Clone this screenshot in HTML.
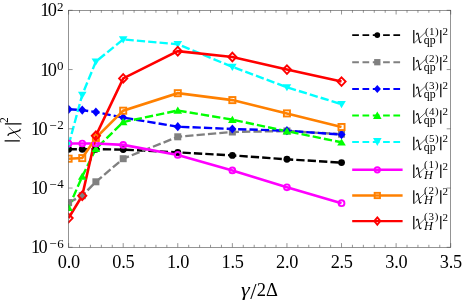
<!DOCTYPE html><html><head><meta charset="utf-8"><style>html,body{margin:0;padding:0;background:#fff}svg{display:block;will-change:transform}.s{font-family:"Liberation Serif",serif}</style></head><body><svg width="463" height="303" viewBox="0 0 463 303">
<rect width="463" height="303" fill="#fff"/>
<defs><clipPath id="c"><rect x="68.3" y="10.3" width="382.40000000000003" height="237.0"/></clipPath></defs>
<g clip-path="url(#c)">
<polyline points="68.6,149.2 82.2,149.2 95.9,149.2 123.2,149.6 177.8,152.4 232.4,155.4 286.9,159.3 341.5,162.6" fill="none" stroke="#000" stroke-width="2.4" stroke-dasharray="8.3 3.1"/>
<polyline points="68.6,202.6 82.2,195.7 95.9,181.8 123.2,158.7 177.8,136.8 232.4,132.0 286.9,131.0 341.5,134.2" fill="none" stroke="#808080" stroke-width="2.4" stroke-dasharray="8.3 3.1"/>
<polyline points="68.6,109.3 82.2,110.1 95.9,112.1 123.2,117.6 177.8,126.7 232.4,129.0 286.9,130.7 341.5,134.6" fill="none" stroke="#0000ff" stroke-width="2.4" stroke-dasharray="8.3 3.1"/>
<polyline points="68.6,207.7 82.2,176.5 95.9,148.8 123.2,122.0 177.8,110.5 232.4,119.7 286.9,131.2 341.5,142.3" fill="none" stroke="#00ff00" stroke-width="2.4" stroke-dasharray="8.3 3.1"/>
<polyline points="68.6,145.0 82.2,94.9 95.9,61.6 123.2,39.4 177.8,44.2 232.4,66.9 286.9,87.3 341.5,104.2" fill="none" stroke="#00ffff" stroke-width="2.4" stroke-dasharray="8.3 3.1"/>
<polyline points="68.6,143.5 82.2,143.5 95.9,143.5 123.2,144.9 177.8,154.9 232.4,170.4 286.9,187.3 341.5,203.2" fill="none" stroke="#ff00ff" stroke-width="2.6"/>
<polyline points="68.6,158.7 82.2,158.1 95.9,137.9 123.2,110.7 177.8,93.2 232.4,100.1 286.9,113.4 341.5,127.0" fill="none" stroke="#ff8000" stroke-width="2.6"/>
<polyline points="68.6,218.1 82.2,195.7 95.9,135.8 123.2,78.4 177.8,51.2 232.4,57.0 286.9,69.6 341.5,81.6" fill="none" stroke="#ff0000" stroke-width="2.6"/>
<circle cx="68.60" cy="149.20" r="3.45" fill="#000"/>
<circle cx="82.25" cy="149.20" r="3.45" fill="#000"/>
<circle cx="95.89" cy="149.20" r="3.45" fill="#000"/>
<circle cx="123.19" cy="149.60" r="3.45" fill="#000"/>
<circle cx="177.77" cy="152.40" r="3.45" fill="#000"/>
<circle cx="232.36" cy="155.40" r="3.45" fill="#000"/>
<circle cx="286.94" cy="159.30" r="3.45" fill="#000"/>
<circle cx="341.53" cy="162.60" r="3.45" fill="#000"/>
<rect x="65.10" y="199.10" width="7.0" height="7.0" fill="#808080"/>
<rect x="78.75" y="192.20" width="7.0" height="7.0" fill="#808080"/>
<rect x="92.39" y="178.30" width="7.0" height="7.0" fill="#808080"/>
<rect x="119.69" y="155.20" width="7.0" height="7.0" fill="#808080"/>
<rect x="174.27" y="133.30" width="7.0" height="7.0" fill="#808080"/>
<rect x="228.86" y="128.50" width="7.0" height="7.0" fill="#808080"/>
<rect x="283.44" y="127.50" width="7.0" height="7.0" fill="#808080"/>
<rect x="338.03" y="130.70" width="7.0" height="7.0" fill="#808080"/>
<path d="M68.60 104.70L72.60 109.30L68.60 113.90L64.60 109.30Z" fill="#0000ff"/>
<path d="M82.25 105.50L86.25 110.10L82.25 114.70L78.25 110.10Z" fill="#0000ff"/>
<path d="M95.89 107.50L99.89 112.10L95.89 116.70L91.89 112.10Z" fill="#0000ff"/>
<path d="M123.19 113.00L127.19 117.60L123.19 122.20L119.19 117.60Z" fill="#0000ff"/>
<path d="M177.77 122.10L181.77 126.70L177.77 131.30L173.77 126.70Z" fill="#0000ff"/>
<path d="M232.36 124.40L236.36 129.00L232.36 133.60L228.36 129.00Z" fill="#0000ff"/>
<path d="M286.94 126.10L290.94 130.70L286.94 135.30L282.94 130.70Z" fill="#0000ff"/>
<path d="M341.53 130.00L345.53 134.60L341.53 139.20L337.53 134.60Z" fill="#0000ff"/>
<path d="M68.60 203.80L72.90 210.90L64.30 210.90Z" fill="#00ff00"/>
<path d="M82.25 172.60L86.55 179.70L77.95 179.70Z" fill="#00ff00"/>
<path d="M95.89 144.90L100.19 152.00L91.59 152.00Z" fill="#00ff00"/>
<path d="M123.19 118.10L127.49 125.20L118.89 125.20Z" fill="#00ff00"/>
<path d="M177.77 106.60L182.07 113.70L173.47 113.70Z" fill="#00ff00"/>
<path d="M232.36 115.80L236.66 122.90L228.06 122.90Z" fill="#00ff00"/>
<path d="M286.94 127.30L291.24 134.40L282.64 134.40Z" fill="#00ff00"/>
<path d="M341.53 138.40L345.83 145.50L337.23 145.50Z" fill="#00ff00"/>
<path d="M68.60 149.00L72.90 141.90L64.30 141.90Z" fill="#00ffff"/>
<path d="M82.25 98.90L86.55 91.80L77.95 91.80Z" fill="#00ffff"/>
<path d="M95.89 65.60L100.19 58.50L91.59 58.50Z" fill="#00ffff"/>
<path d="M123.19 43.40L127.49 36.30L118.89 36.30Z" fill="#00ffff"/>
<path d="M177.77 48.20L182.07 41.10L173.47 41.10Z" fill="#00ffff"/>
<path d="M232.36 70.90L236.66 63.80L228.06 63.80Z" fill="#00ffff"/>
<path d="M286.94 91.30L291.24 84.20L282.64 84.20Z" fill="#00ffff"/>
<path d="M341.53 108.20L345.83 101.10L337.23 101.10Z" fill="#00ffff"/>
<circle cx="68.60" cy="143.50" r="2.9" fill="none" stroke="#ff00ff" stroke-width="1.9"/>
<circle cx="82.25" cy="143.50" r="2.9" fill="none" stroke="#ff00ff" stroke-width="1.9"/>
<circle cx="95.89" cy="143.50" r="2.9" fill="none" stroke="#ff00ff" stroke-width="1.9"/>
<circle cx="123.19" cy="144.90" r="2.9" fill="none" stroke="#ff00ff" stroke-width="1.9"/>
<circle cx="177.77" cy="154.90" r="2.9" fill="none" stroke="#ff00ff" stroke-width="1.9"/>
<circle cx="232.36" cy="170.40" r="2.9" fill="none" stroke="#ff00ff" stroke-width="1.9"/>
<circle cx="286.94" cy="187.30" r="2.9" fill="none" stroke="#ff00ff" stroke-width="1.9"/>
<circle cx="341.53" cy="203.20" r="2.9" fill="none" stroke="#ff00ff" stroke-width="1.9"/>
<rect x="65.55" y="155.65" width="6.1" height="6.1" fill="none" stroke="#ff8000" stroke-width="1.9"/>
<rect x="79.20" y="155.05" width="6.1" height="6.1" fill="none" stroke="#ff8000" stroke-width="1.9"/>
<rect x="92.84" y="134.85" width="6.1" height="6.1" fill="none" stroke="#ff8000" stroke-width="1.9"/>
<rect x="120.14" y="107.65" width="6.1" height="6.1" fill="none" stroke="#ff8000" stroke-width="1.9"/>
<rect x="174.72" y="90.15" width="6.1" height="6.1" fill="none" stroke="#ff8000" stroke-width="1.9"/>
<rect x="229.31" y="97.05" width="6.1" height="6.1" fill="none" stroke="#ff8000" stroke-width="1.9"/>
<rect x="283.89" y="110.35" width="6.1" height="6.1" fill="none" stroke="#ff8000" stroke-width="1.9"/>
<rect x="338.48" y="123.95" width="6.1" height="6.1" fill="none" stroke="#ff8000" stroke-width="1.9"/>
<path d="M68.60 213.80L72.70 218.10L68.60 222.40L64.50 218.10Z" fill="none" stroke="#ff0000" stroke-width="1.9"/>
<path d="M82.25 191.40L86.35 195.70L82.25 200.00L78.15 195.70Z" fill="none" stroke="#ff0000" stroke-width="1.9"/>
<path d="M95.89 131.50L99.99 135.80L95.89 140.10L91.79 135.80Z" fill="none" stroke="#ff0000" stroke-width="1.9"/>
<path d="M123.19 74.10L127.29 78.40L123.19 82.70L119.09 78.40Z" fill="none" stroke="#ff0000" stroke-width="1.9"/>
<path d="M177.77 46.90L181.87 51.20L177.77 55.50L173.67 51.20Z" fill="none" stroke="#ff0000" stroke-width="1.9"/>
<path d="M232.36 52.70L236.46 57.00L232.36 61.30L228.26 57.00Z" fill="none" stroke="#ff0000" stroke-width="1.9"/>
<path d="M286.94 65.30L291.04 69.60L286.94 73.90L282.84 69.60Z" fill="none" stroke="#ff0000" stroke-width="1.9"/>
<path d="M341.53 77.30L345.63 81.60L341.53 85.90L337.43 81.60Z" fill="none" stroke="#ff0000" stroke-width="1.9"/>
</g>
<rect x="68.6" y="10.3" width="382.1" height="237.0" fill="none" stroke="#4d4d4d" stroke-width="0.6"/>
<path d="M68.60 247.3v-4.2M68.60 10.3v4.2M79.52 247.3v-2.5M79.52 10.3v2.5M90.43 247.3v-2.5M90.43 10.3v2.5M101.35 247.3v-2.5M101.35 10.3v2.5M112.27 247.3v-2.5M112.27 10.3v2.5M123.19 247.3v-4.2M123.19 10.3v4.2M134.10 247.3v-2.5M134.10 10.3v2.5M145.02 247.3v-2.5M145.02 10.3v2.5M155.94 247.3v-2.5M155.94 10.3v2.5M166.85 247.3v-2.5M166.85 10.3v2.5M177.77 247.3v-4.2M177.77 10.3v4.2M188.69 247.3v-2.5M188.69 10.3v2.5M199.61 247.3v-2.5M199.61 10.3v2.5M210.52 247.3v-2.5M210.52 10.3v2.5M221.44 247.3v-2.5M221.44 10.3v2.5M232.36 247.3v-4.2M232.36 10.3v4.2M243.27 247.3v-2.5M243.27 10.3v2.5M254.19 247.3v-2.5M254.19 10.3v2.5M265.11 247.3v-2.5M265.11 10.3v2.5M276.03 247.3v-2.5M276.03 10.3v2.5M286.94 247.3v-4.2M286.94 10.3v4.2M297.86 247.3v-2.5M297.86 10.3v2.5M308.78 247.3v-2.5M308.78 10.3v2.5M319.69 247.3v-2.5M319.69 10.3v2.5M330.61 247.3v-2.5M330.61 10.3v2.5M341.53 247.3v-4.2M341.53 10.3v4.2M352.45 247.3v-2.5M352.45 10.3v2.5M363.36 247.3v-2.5M363.36 10.3v2.5M374.28 247.3v-2.5M374.28 10.3v2.5M385.20 247.3v-2.5M385.20 10.3v2.5M396.11 247.3v-4.2M396.11 10.3v4.2M407.03 247.3v-2.5M407.03 10.3v2.5M417.95 247.3v-2.5M417.95 10.3v2.5M428.87 247.3v-2.5M428.87 10.3v2.5M439.78 247.3v-2.5M439.78 10.3v2.5M450.70 247.3v-4.2M450.70 10.3v4.2M68.6 247.30h4M450.7 247.30h-4M68.6 188.05h4M450.7 188.05h-4M68.6 128.80h4M450.7 128.80h-4M68.6 69.55h4M450.7 69.55h-4M68.6 10.30h4M450.7 10.30h-4" stroke="#4d4d4d" stroke-width="0.6" fill="none"/>
<g class="s" font-size="18.3" fill="#000">
<text x="68.8" y="268.2" text-anchor="middle" letter-spacing="-0.25">0.0</text>
<text x="123.4" y="268.2" text-anchor="middle" letter-spacing="-0.25">0.5</text>
<text x="178.0" y="268.2" text-anchor="middle" letter-spacing="-0.25">1.0</text>
<text x="232.6" y="268.2" text-anchor="middle" letter-spacing="-0.25">1.5</text>
<text x="287.1" y="268.2" text-anchor="middle" letter-spacing="-0.25">2.0</text>
<text x="341.7" y="268.2" text-anchor="middle" letter-spacing="-0.25">2.5</text>
<text x="396.3" y="268.2" text-anchor="middle" letter-spacing="-0.25">3.0</text>
<text x="450.9" y="268.2" text-anchor="middle" letter-spacing="-0.25">3.5</text>
<text x="40.2" y="16.4"><tspan letter-spacing="-1.5">1</tspan>0</text><text x="57.0" y="10.6" font-size="13">2</text>
<text x="40.2" y="75.7"><tspan letter-spacing="-1.5">1</tspan>0</text><text x="57.0" y="69.9" font-size="13">0</text>
<text x="30.9" y="134.9"><tspan letter-spacing="-1.5">1</tspan>0</text><text x="49.2" y="129.9" font-size="13">−</text><text x="57.2" y="129.1" font-size="13">2</text>
<text x="30.9" y="194.2"><tspan letter-spacing="-1.5">1</tspan>0</text><text x="49.2" y="189.2" font-size="13">−</text><text x="57.2" y="188.4" font-size="13">4</text>
<text x="30.9" y="253.4"><tspan letter-spacing="-1.5">1</tspan>0</text><text x="49.2" y="248.4" font-size="13">−</text><text x="57.2" y="247.6" font-size="13">6</text>
</g>
<g class="s" fill="#000" font-size="18.5"><text transform="translate(241.1,296.2) scale(1.2,1)" font-style="italic">γ</text><text x="250.3" y="299.1" font-size="22.5">/</text><text x="256.7" y="296.2">2</text><text x="266.0" y="296.2">Δ</text></g>
<g class="s" fill="#000"><path d="M4.6 140.8H19.8M4.9 123.9H21.5" stroke="#000" stroke-width="1.3" fill="none"/><path d="M8.1 135.3Q7.9 134.0 9.6 133.6L18.8 130.8Q20.3 130.4 20.1 129.3" fill="none" stroke="#000" stroke-width="1.3" stroke-linecap="round" stroke-linejoin="round"/><path d="M8.9 127.3L20.7 138.4" fill="none" stroke="#000" stroke-width="0.7" stroke-linecap="round"/><text transform="rotate(-90)" x="-122.9" y="8.4" font-size="11.5">2</text></g>
<line x1="352.2" y1="35.1" x2="402.6" y2="35.1" stroke="#000" stroke-width="1.9" stroke-dasharray="6.7 3.6"/>
<circle cx="377.30" cy="35.10" r="2.85" fill="#000"/>
<g class="s" fill="#000"><path d="M413.8 29.9V43.3M440.8 29.9V43.3" stroke="#000" stroke-width="1.2" fill="none"/><path d="M416.45 34.29Q416.89 32.82 417.98 33.34L419.61 42.16Q420.05 43.32 421.14 42.06" fill="none" stroke="#000" stroke-width="1.05" stroke-linecap="round" stroke-linejoin="round"/><path d="M425.39 32.40L414.60 42.69" fill="none" stroke="#000" stroke-width="0.6" stroke-linecap="round"/><text x="424.9" y="34.9" font-size="11" letter-spacing="0.5">(1)</text><text transform="translate(423.8,43.6) scale(1.0,1)" font-size="11.8">qp</text><text x="442.4" y="34.8" font-size="11">2</text></g>
<line x1="352.2" y1="62.2" x2="402.6" y2="62.2" stroke="#808080" stroke-width="1.9" stroke-dasharray="6.7 3.6"/>
<rect x="374.15" y="59.05" width="6.3" height="6.3" fill="#808080"/>
<g class="s" fill="#000"><path d="M413.8 57.0V70.4M440.8 57.0V70.4" stroke="#000" stroke-width="1.2" fill="none"/><path d="M416.45 61.39Q416.89 59.92 417.98 60.44L419.61 69.26Q420.05 70.42 421.14 69.16" fill="none" stroke="#000" stroke-width="1.05" stroke-linecap="round" stroke-linejoin="round"/><path d="M425.39 59.50L414.60 69.79" fill="none" stroke="#000" stroke-width="0.6" stroke-linecap="round"/><text x="424.9" y="62.0" font-size="11" letter-spacing="0.5">(2)</text><text transform="translate(423.8,70.7) scale(1.0,1)" font-size="11.8">qp</text><text x="442.4" y="61.9" font-size="11">2</text></g>
<line x1="352.2" y1="89.0" x2="402.6" y2="89.0" stroke="#0000ff" stroke-width="1.9" stroke-dasharray="6.7 3.6"/>
<path d="M377.30 85.00L380.90 89.00L377.30 93.00L373.70 89.00Z" fill="#0000ff"/>
<g class="s" fill="#000"><path d="M413.8 83.8V97.2M440.8 83.8V97.2" stroke="#000" stroke-width="1.2" fill="none"/><path d="M416.45 88.19Q416.89 86.72 417.98 87.24L419.61 96.06Q420.05 97.22 421.14 95.96" fill="none" stroke="#000" stroke-width="1.05" stroke-linecap="round" stroke-linejoin="round"/><path d="M425.39 86.30L414.60 96.59" fill="none" stroke="#000" stroke-width="0.6" stroke-linecap="round"/><text x="424.9" y="88.8" font-size="11" letter-spacing="0.5">(3)</text><text transform="translate(423.8,97.5) scale(1.0,1)" font-size="11.8">qp</text><text x="442.4" y="88.7" font-size="11">2</text></g>
<line x1="352.2" y1="115.5" x2="402.6" y2="115.5" stroke="#00ff00" stroke-width="1.9" stroke-dasharray="6.7 3.6"/>
<path d="M377.30 111.60L381.60 119.10L373.00 119.10Z" fill="#00ff00"/>
<g class="s" fill="#000"><path d="M413.8 110.3V123.7M440.8 110.3V123.7" stroke="#000" stroke-width="1.2" fill="none"/><path d="M416.45 114.69Q416.89 113.22 417.98 113.74L419.61 122.56Q420.05 123.72 421.14 122.46" fill="none" stroke="#000" stroke-width="1.05" stroke-linecap="round" stroke-linejoin="round"/><path d="M425.39 112.80L414.60 123.09" fill="none" stroke="#000" stroke-width="0.6" stroke-linecap="round"/><text x="424.9" y="115.3" font-size="11" letter-spacing="0.5">(4)</text><text transform="translate(423.8,124.0) scale(1.0,1)" font-size="11.8">qp</text><text x="442.4" y="115.2" font-size="11">2</text></g>
<line x1="352.2" y1="142.0" x2="402.6" y2="142.0" stroke="#00ffff" stroke-width="1.9" stroke-dasharray="6.7 3.6"/>
<path d="M377.30 146.10L381.60 138.10L373.00 138.10Z" fill="#00ffff"/>
<g class="s" fill="#000"><path d="M413.8 136.8V150.2M440.8 136.8V150.2" stroke="#000" stroke-width="1.2" fill="none"/><path d="M416.45 141.18Q416.89 139.71 417.98 140.24L419.61 149.06Q420.05 150.21 421.14 148.95" fill="none" stroke="#000" stroke-width="1.05" stroke-linecap="round" stroke-linejoin="round"/><path d="M425.39 139.29L414.60 149.58" fill="none" stroke="#000" stroke-width="0.6" stroke-linecap="round"/><text x="424.9" y="141.8" font-size="11" letter-spacing="0.5">(5)</text><text transform="translate(423.8,150.5) scale(1.0,1)" font-size="11.8">qp</text><text x="442.4" y="141.7" font-size="11">2</text></g>
<line x1="352.2" y1="169.8" x2="402.6" y2="169.8" stroke="#ff00ff" stroke-width="2.4"/>
<circle cx="377.30" cy="169.80" r="2.7" fill="none" stroke="#ff00ff" stroke-width="1.9"/>
<g class="s" fill="#000"><path d="M413.8 164.6V178.0M440.8 164.6V178.0" stroke="#000" stroke-width="1.2" fill="none"/><path d="M416.45 168.98Q416.89 167.51 417.98 168.04L419.61 176.86Q420.05 178.01 421.14 176.75" fill="none" stroke="#000" stroke-width="1.05" stroke-linecap="round" stroke-linejoin="round"/><path d="M425.39 167.09L414.60 177.38" fill="none" stroke="#000" stroke-width="0.6" stroke-linecap="round"/><text x="423.9" y="168.3" font-size="11" letter-spacing="0.85">(1)</text><text transform="translate(423.9,178.5) scale(0.95,1)" font-size="13.0" font-style="italic">H</text><text x="442.4" y="169.5" font-size="11">2</text></g>
<line x1="352.2" y1="195.5" x2="402.6" y2="195.5" stroke="#ff8000" stroke-width="2.4"/>
<rect x="374.65" y="192.85" width="5.3" height="5.3" fill="none" stroke="#ff8000" stroke-width="1.9"/>
<g class="s" fill="#000"><path d="M413.8 190.3V203.7M440.8 190.3V203.7" stroke="#000" stroke-width="1.2" fill="none"/><path d="M416.45 194.68Q416.89 193.21 417.98 193.74L419.61 202.56Q420.05 203.71 421.14 202.45" fill="none" stroke="#000" stroke-width="1.05" stroke-linecap="round" stroke-linejoin="round"/><path d="M425.39 192.79L414.60 203.08" fill="none" stroke="#000" stroke-width="0.6" stroke-linecap="round"/><text x="423.9" y="194.0" font-size="11" letter-spacing="0.85">(2)</text><text transform="translate(423.9,204.2) scale(0.95,1)" font-size="13.0" font-style="italic">H</text><text x="442.4" y="195.2" font-size="11">2</text></g>
<line x1="352.2" y1="221.1" x2="402.6" y2="221.1" stroke="#ff0000" stroke-width="2.4"/>
<path d="M377.30 217.40L380.30 221.10L377.30 224.80L374.30 221.10Z" fill="none" stroke="#ff0000" stroke-width="1.9"/>
<g class="s" fill="#000"><path d="M413.8 215.9V229.3M440.8 215.9V229.3" stroke="#000" stroke-width="1.2" fill="none"/><path d="M416.45 220.28Q416.89 218.81 417.98 219.34L419.61 228.16Q420.05 229.31 421.14 228.05" fill="none" stroke="#000" stroke-width="1.05" stroke-linecap="round" stroke-linejoin="round"/><path d="M425.39 218.39L414.60 228.68" fill="none" stroke="#000" stroke-width="0.6" stroke-linecap="round"/><text x="423.9" y="219.6" font-size="11" letter-spacing="0.85">(3)</text><text transform="translate(423.9,229.8) scale(0.95,1)" font-size="13.0" font-style="italic">H</text><text x="442.4" y="220.8" font-size="11">2</text></g>
</svg></body></html>
